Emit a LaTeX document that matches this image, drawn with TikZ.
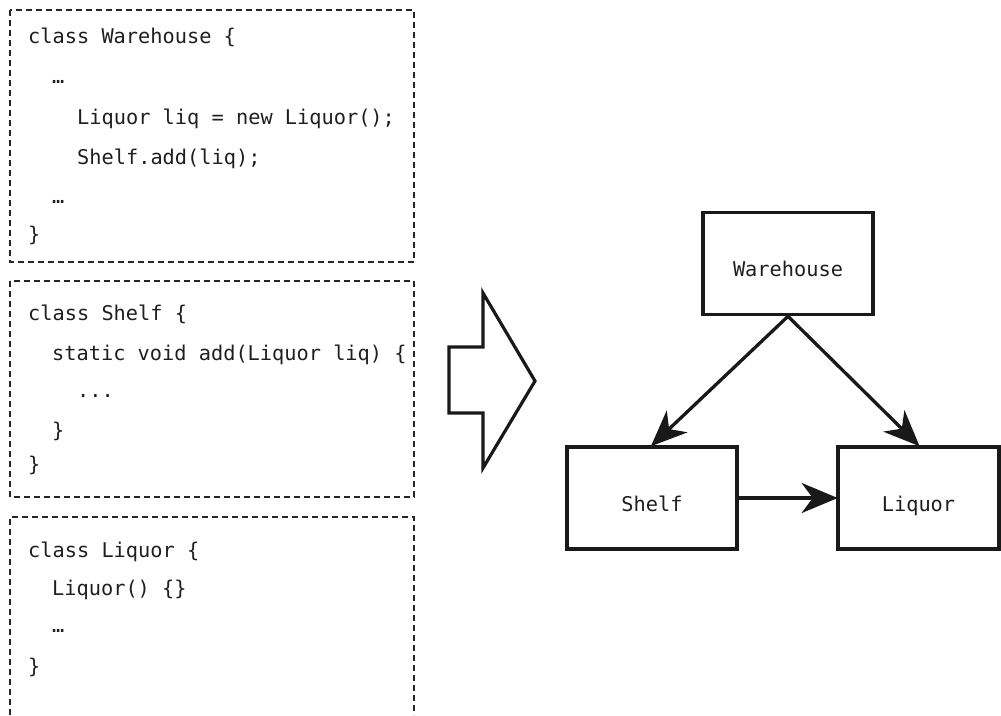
\documentclass[tikz,border=0pt]{standalone}
\usepackage{fontspec}
\setmonofont{DejaVu Sans Mono}
\usetikzlibrary{arrows.meta}
\begin{document}
\begin{tikzpicture}[x=1pt,y=-1pt,
  code/.style={anchor=base west,inner sep=0pt,font=\fontsize{20.3}{24}\selectfont\ttfamily,text=black!88},
  frame/.style={draw=black!85,line width=1.3pt,dash pattern=on 6pt off 4pt},
  cls/.style={draw=black!90,line width=3.6pt,inner sep=0pt,minimum height=102pt,text height=26pt,text depth=0pt,font=\fontsize{20.3}{24}\selectfont\ttfamily,text=black!88},
  dep/.style={draw=black!90,line width=3.3pt,shorten >=-1.5pt,-{Stealth[length=36pt,width=30pt,inset=11pt]}}]
\useasboundingbox (0,0) rectangle (1001,715);
% code frames
\draw[frame] (10,10) rectangle (414,262);
\draw[frame] (10,281) rectangle (414,497);
\draw[frame] (10,715) -- (10,517) -- (414,517) -- (414,715);
% Warehouse code
\node[code] (w1) at (28,43) {class Warehouse \{};
\node[code] (w2) at (52,83) {…};
\node[code] (w3) at (77,124) {Liquor liq = new Liquor();};
\node[code] (w4) at (77,164) {Shelf.add(liq);};
\node[code] (w5) at (52,203) {…};
\node[code] (w6) at (28,241) {\}};
% Shelf code
\node[code] (s1) at (28,320) {class Shelf \{};
\node[code] (s2) at (52,360) {static void add(Liquor liq) \{};
\node[code] (s3) at (77,397) {...};
\node[code] (s4) at (52,437) {\}};
\node[code] (s5) at (28,471) {\}};
% Liquor code
\node[code] (l1) at (28,557) {class Liquor \{};
\node[code] (l2) at (52,595) {Liquor() \{\}};
\node[code] (l3) at (52,632) {…};
\node[code] (l4) at (28,673) {\}};
% big arrow
\draw[draw=black!90,line width=3.2pt,line join=miter] (449,347) -- (483,347) -- (483,293) -- (535,381) -- (483,468) -- (483,413) -- (449,413) -- cycle;
% class diagram
\node[cls,minimum width=170pt] (W) at (788,263.5) {Warehouse};
\node[cls,minimum width=170pt] (S) at (652,498) {Shelf};
\node[cls,minimum width=161pt] (L) at (918.5,498) {Liquor};
\draw[dep] (W.south) -- (S.north);
\draw[dep] (W.south) -- (L.north);
\draw[dep] (S.east) -- (L.west);
\end{tikzpicture}
\end{document}
